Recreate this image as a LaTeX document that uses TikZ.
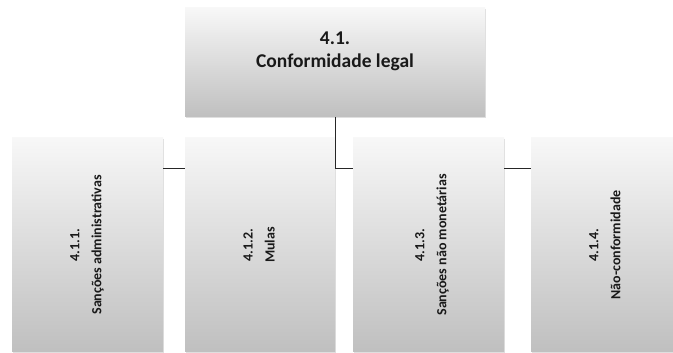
\documentclass[tikz,border=0pt]{standalone}
\usepackage{fontspec}
\setmainfont{Carlito}
\usetikzlibrary{shadows}
\begin{document}
\begin{tikzpicture}[x=1pt,y=1pt,
  orgbox/.style={rectangle, inner sep=0pt, draw=none,
    top color=white!97!black, bottom color=white!75!black,
    drop shadow={opacity=0.25, shadow xshift=1pt, shadow yshift=-1pt}},
  link/.style={draw=black!85, line width=1pt},
  toptxt/.style={font=\bfseries\fontsize{19.5}{23}\selectfont, align=center, text=black!90, inner sep=0pt},
  sidetxt/.style={rotate=90, font=\bfseries\fontsize{14}{22}\selectfont, align=center, text=black!90, inner sep=0pt}]
\useasboundingbox (0,0) rectangle (673,353);
\clip (0,0) rectangle (673,353);
\fill[white] (0,0) rectangle (673,353);
\coordinate (bar) at (0,184);
\node[orgbox, minimum width=300pt, minimum height=109pt] (top) at (335,290.5) {};
\node[orgbox, minimum width=151pt, minimum height=214pt] (b1) at (87.5,108) {};
\node[orgbox, minimum width=150pt, minimum height=214pt] (b2) at (260,108) {};
\node[orgbox, minimum width=151pt, minimum height=214pt] (b3) at (428.5,108) {};
\node[orgbox, minimum width=151pt, minimum height=214pt] (b4) at (606.5,108) {};
\draw[link] (top.south) -- (top.south |- bar) -- (b3.west |- bar);
\draw[link] (b2.east |- bar) -- (b3.west |- bar);
\draw[link] (b1.east |- bar) -- (b2.west |- bar);
\draw[link] (b3.east |- bar) -- (b4.west |- bar);
\node[toptxt] (t0) at (335,301.5) {4.1.\\Conformidade legal};
\node[sidetxt] (t1) at (87,108) {4.1.1.\\Sanções administrativas};
\node[sidetxt] (t2) at (259,108) {4.1.2.\\Mulas};
\node[sidetxt] (t3) at (432,108) {4.1.3.\\Sanções não monetárias};
\node[sidetxt] (t4) at (605,108) {4.1.4.\\Não-conformidade};
\end{tikzpicture}
\end{document}
